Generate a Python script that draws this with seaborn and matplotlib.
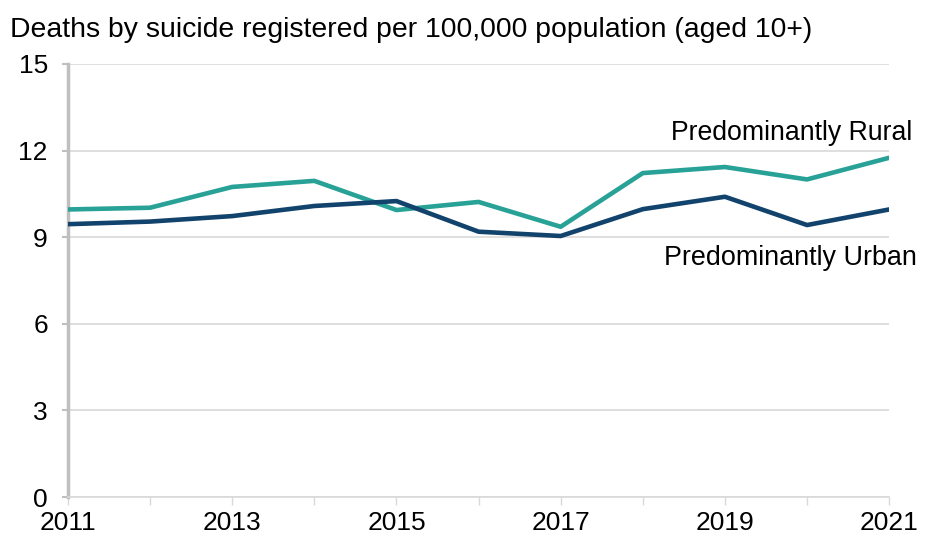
import pandas as pd
import matplotlib.pyplot as plt
import seaborn as sns

years = list(range(2011, 2022))
rural = [9.96, 10.02, 10.74, 10.95, 9.94, 10.22, 9.36, 11.22, 11.43, 11.0, 11.75]
urban = [9.45, 9.54, 9.73, 10.08, 10.25, 9.19, 9.04, 9.97, 10.40, 9.42, 9.96]
series_names = ['Predominantly Rural', 'Predominantly Urban']
colours = {'Predominantly Rural': '#28A197', 'Predominantly Urban': '#12436D'}

df = pd.DataFrame({
    'Year': years * 2,
    'Rate': rural + urban,
    'Area': [series_names[0]] * len(years) + [series_names[1]] * len(years),
})

sns.set_style('white')
plt.rcParams['font.family'] = ['Liberation Sans', 'DejaVu Sans']

fig = plt.figure(figsize=(9.3, 5.4), dpi=100)
ax = fig.add_axes([0.0731, 0.0796, 0.883, 0.802])

sns.lineplot(data=df, x='Year', y='Rate', hue='Area', palette=colours,
             linewidth=3.3, legend=False, ax=ax, zorder=3)

ax.set_xlim(2011, 2021)
ax.set_ylim(0, 15)
ax.set_xticks(range(2011, 2022))
ax.set_xticklabels([str(y) if (y - 2011) % 2 == 0 else '' for y in years])
ax.set_yticks([0, 3, 6, 9, 12, 15])
ax.set_xlabel('')
ax.set_ylabel('')

ax.grid(axis='y', color='#d9d9d9', linewidth=1.2)
ax.grid(axis='x', visible=False)
for s in ['top', 'right']:
    ax.spines[s].set_visible(False)
ax.spines['left'].set_color('#bfbfbf')
ax.spines['left'].set_linewidth(2.5)
ax.spines['bottom'].set_color('#d9d9d9')
ax.spines['bottom'].set_linewidth(1.2)

ax.tick_params(axis='x', direction='out', length=6, width=1, color='#d9d9d9',
               labelsize=19, labelcolor='black', pad=4, bottom=True)
ax.tick_params(axis='y', direction='out', length=4.5, width=1.5, color='#bfbfbf',
               labelsize=19, labelcolor='black', pad=10, left=True)

fig.text(0.011, 0.944, 'Deaths by suicide registered per 100,000 population (aged 10+)',
         fontsize=20.4, ha='left', va='center', color='black')

ax.text(2021.28, 12.6, 'Predominantly Rural', fontsize=19.2, ha='right', va='center',
        color='black')
ax.text(2021.34, 8.28, 'Predominantly Urban', fontsize=19.4, ha='right', va='center',
        color='black')

fig.savefig('out.png', dpi=100)
